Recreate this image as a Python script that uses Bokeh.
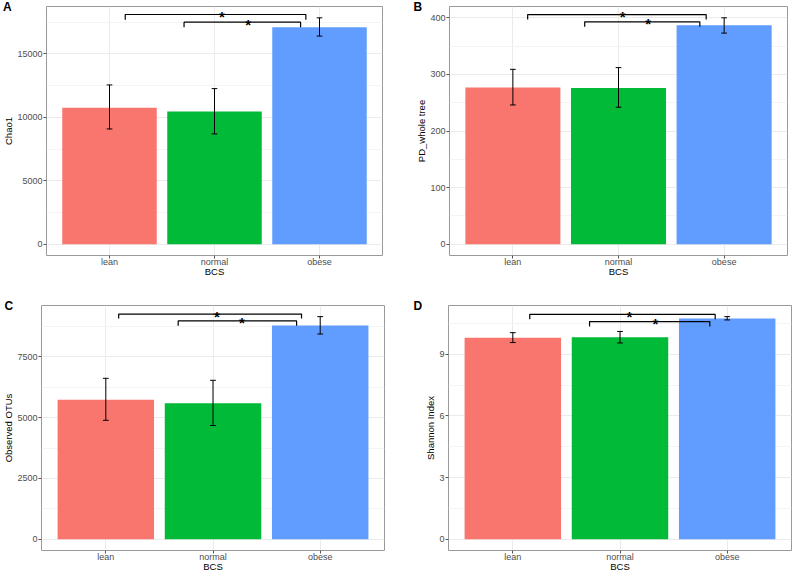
from bokeh.plotting import figure
from bokeh.models import FixedTicker
from bokeh.layouts import column, row
from bokeh.embed import file_html
from bokeh.resources import INLINE
from bokeh.core.properties import value

# ---------------- data ----------------
categories = ["lean", "normal", "obese"]
bar_colors = ["#F8766D", "#00BA38", "#619CFF"]
x_label = "BCS"

# Panel A: Chao1
chao1_mean = [10760, 10450, 17100]
chao1_lo = [9080, 8690, 16400]
chao1_hi = [12550, 12260, 17840]
chao1_ticks = [0, 5000, 10000, 15000]
chao1_br_x1 = [1.15, 1.71]
chao1_br_x2 = [2.87, 2.82]
chao1_br_y = [18100, 17500]
chao1_br_tip = [17680, 17100]
chao1_star_x = [2.07, 2.32]

# Panel B: PD whole tree
pd_mean = [277, 276, 387]
pd_lo = [246, 242, 373]
pd_hi = [309, 312, 400]
pd_ticks = [0, 100, 200, 300, 400]
pd_br_x1 = [1.14, 1.68]
pd_br_x2 = [2.83, 2.77]
pd_br_y = [405.8, 393]
pd_br_tip = [397, 384]
pd_star_x = [2.04, 2.28]

# Panel C: Observed OTUs
otu_mean = [5735, 5590, 8780]
otu_lo = [4887, 4673, 8429]
otu_hi = [6611, 6530, 9143]
otu_ticks = [0, 2500, 5000, 7500]
otu_br_x1 = [1.12, 1.675]
otu_br_x2 = [2.826, 2.78]
otu_br_y = [9249, 8966]
otu_br_tip = [9063, 8764]
otu_star_x = [2.036, 2.27]

# Panel D: Shannon index
sh_mean = [9.80, 9.83, 10.74]
sh_lo = [9.57, 9.55, 10.67]
sh_hi = [10.05, 10.11, 10.83]
sh_ticks = [0, 3, 6, 9]
sh_br_x1 = [1.158, 1.716]
sh_br_x2 = [2.888, 2.838]
sh_br_y = [10.94, 10.59]
sh_br_tip = [10.70, 10.35]
sh_star_x = [2.088, 2.33]

FONT = "Liberation Sans"


def make_panel(letter, ylabel, mean, lo, hi, ticks, bx1, bx2, by, btip, sx,
               width, height, bl, br, bt, bb, lx):
    xs = list(range(1, len(categories) + 1))
    m = max(hi)
    p = figure(width=width, height=height, output_backend="svg",
               toolbar_location=None,
               x_range=(0.4, len(categories) + 0.6),
               y_range=(-0.05 * m, 1.05 * m),
               min_border_left=bl, min_border_right=br,
               min_border_top=bt, min_border_bottom=bb)
    p.background_fill_color = "white"
    p.border_fill_color = "white"
    p.outline_line_color = "#9a9a9a"
    p.outline_line_width = 1

    # panel letter as a title tucked beside the frame's top-left corner
    p.title.text = letter
    p.title.align = "left"
    p.title.vertical_align = "bottom"
    p.title.offset = lx - bl
    p.title.standoff = -15
    p.title.text_font = FONT
    p.title.text_font_size = "12px"
    p.title.text_font_style = "bold"
    p.title.text_color = "black"

    # grids
    step = ticks[1] - ticks[0]
    minor = [t + step / 2 for t in ticks] + [ticks[0] - step / 2]
    p.yaxis.ticker = FixedTicker(ticks=ticks, minor_ticks=minor)
    p.xaxis.ticker = FixedTicker(ticks=xs)
    p.xaxis.major_label_overrides = {x: c for x, c in zip(xs, categories)}
    p.ygrid.grid_line_color = "#EBEBEB"
    p.ygrid.minor_grid_line_color = "#F4F4F4"
    p.xgrid.grid_line_color = "#EBEBEB"

    for ax in (p.xaxis, p.yaxis):
        ax.axis_line_color = None
        ax.major_tick_line_color = "#555555"
        ax.major_tick_in = 0
        ax.major_tick_out = 3
        ax.minor_tick_line_color = None
        ax.major_label_text_font = FONT
        ax.major_label_text_font_size = "9px"
        ax.major_label_text_color = "#4D4D4D"
        ax.axis_label_text_font = FONT
        ax.axis_label_text_font_size = "9.5px"
        ax.axis_label_text_font_style = "normal"
        ax.axis_label_text_color = "black"
    p.xaxis.major_label_standoff = -2
    p.xaxis.axis_label_standoff = -4
    p.yaxis.major_label_standoff = 0
    p.yaxis.axis_label_standoff = 0
    p.xaxis.axis_label = x_label
    p.yaxis.axis_label = ylabel

    # bars
    p.vbar(x=xs, top=mean, bottom=0, width=0.9, fill_color=bar_colors,
           line_color=None)

    # error bars
    cap = 0.027
    p.segment(x0=xs, y0=lo, x1=xs, y1=hi, line_color="black", line_width=1)
    p.segment(x0=[x - cap for x in xs], y0=hi, x1=[x + cap for x in xs],
              y1=hi, line_color="black", line_width=1)
    p.segment(x0=[x - cap for x in xs], y0=lo, x1=[x + cap for x in xs],
              y1=lo, line_color="black", line_width=1)

    # significance brackets
    bxs = [[a, a, b, b] for a, b in zip(bx1, bx2)]
    bys = [[t, y, y, t] for y, t in zip(by, btip)]
    p.multi_line(xs=bxs, ys=bys, line_color="black", line_width=1.2)
    p.text(x=sx, y=by, text=["*"] * len(sx), text_align="center",
           text_baseline="alphabetic", text_font=value(FONT),
           text_font_size="15px", text_font_style="bold", y_offset=2,
           text_color="black")
    return p


pA = make_panel("A", "Chao1", chao1_mean, chao1_lo, chao1_hi, chao1_ticks,
                chao1_br_x1, chao1_br_x2, chao1_br_y, chao1_br_tip,
                chao1_star_x, 400, 280, 44, 18, 6, 25, 0.5)
pB = make_panel("B", "PD_whole tree", pd_mean, pd_lo, pd_hi, pd_ticks,
                pd_br_x1, pd_br_x2, pd_br_y, pd_br_tip, pd_star_x,
                399, 280, 49, 12, 6, 25, 13)
pC = make_panel("C", "Observed OTUs", otu_mean, otu_lo, otu_hi, otu_ticks,
                otu_br_x1, otu_br_x2, otu_br_y, otu_br_tip, otu_star_x,
                400, 294, 41, 16, 25, 19, 4)
pD = make_panel("D", "Shannon Index", sh_mean, sh_lo, sh_hi, sh_ticks,
                sh_br_x1, sh_br_x2, sh_br_y, sh_br_tip, sh_star_x,
                399, 294, 48, 8, 25, 19, 13)

layout = column(row(pA, pB), row(pC, pD))
open("out.html", "w").write(file_html(layout, INLINE))
